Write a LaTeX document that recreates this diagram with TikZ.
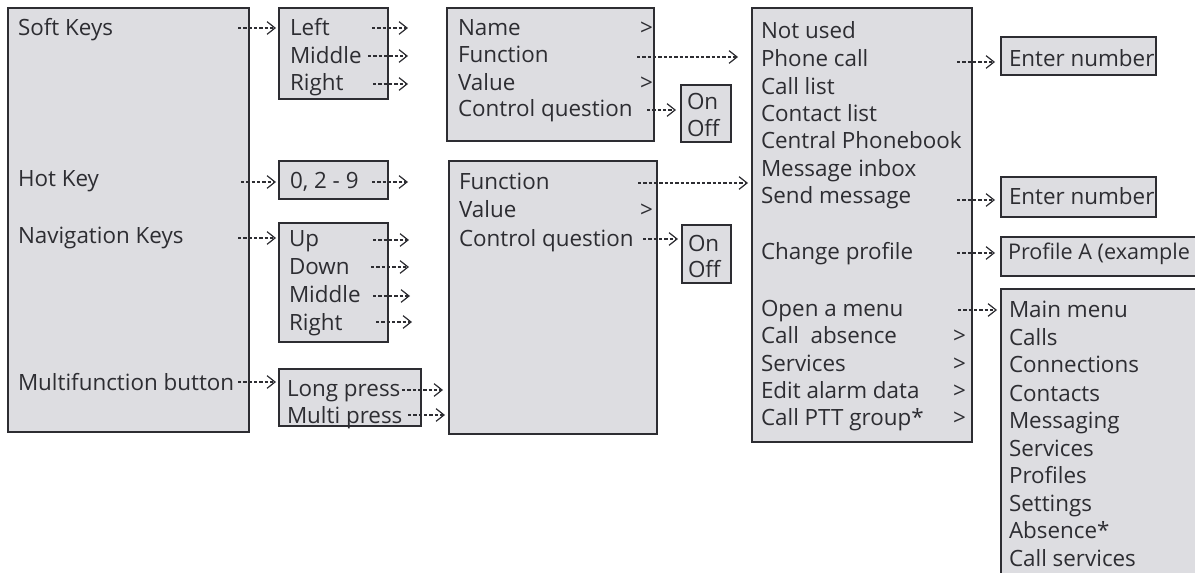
\documentclass[tikz,border=0pt]{standalone}
\usepackage{fontspec}
\setmainfont{Open Sans}
\usetikzlibrary{arrows.meta}
\definecolor{boxfill}{RGB}{221,221,225}
\definecolor{ink}{RGB}{45,45,50}
\newcommand\mkbox[5]{\node[box,minimum width=#4*0.75pt,minimum height=#5*0.75pt] (#1) at (#2,#3) {};}
\newcommand\tl[4]{\node[txt] (#1) at (#2,#3) {#4};}
\newcommand\darr[4]{\coordinate (#1s) at (#2,#4); \coordinate (#1e) at (#3,#4); \draw[arr] (#1s) -- (#1e);}
\begin{document}
\begin{tikzpicture}[x=0.75pt,y=-0.75pt,
  box/.style={draw=ink, fill=boxfill, line width=1.1pt, anchor=north west, inner sep=0pt, outer sep=0pt},
  txt/.style={anchor=base west, inner sep=0pt, outer sep=0pt, text=ink, font=\fontsize{16.8}{20}\selectfont},
  arr/.style={draw=ink, line width=0.8pt, dash pattern=on 2.6pt off 1.4pt, -{Straight Barb[length=6pt,width=9.5pt,line width=0.9pt]}},
]
\useasboundingbox (0,0) rectangle (1195,573);
\clip (0,0) rectangle (1195,573);
% boxes
\mkbox{A}{8}{8}{241}{424}
\mkbox{SK}{279}{8}{109}{91}
\mkbox{HK}{279}{161}{109}{38}
\mkbox{NK}{279}{223}{109}{119}
\mkbox{MF}{279}{369}{142}{57}
\mkbox{NB}{447}{8}{207}{133}
\mkbox{OOa}{681}{85}{50}{57}
\mkbox{FB}{449}{161}{208}{273}
\mkbox{OOb}{682}{225}{49}{58}
\mkbox{L}{752}{8}{220}{434}
\mkbox{ENa}{1001}{37}{155}{38}
\mkbox{ENb}{1001}{177}{155}{40}
\mkbox{PA}{1001}{237}{220}{39}
\mkbox{MM}{1001}{289}{220}{300}
% texts
\tl{tsoft}{18}{36}{Soft Keys}
\tl{thot}{18}{187}{Hot Key}
\tl{tnav}{18}{244}{Navigation Keys}
\tl{tmf}{18}{390}{Multifunction button}
\tl{tskl}{290}{36}{Left}
\tl{tskm}{290}{64}{Middle}
\tl{tskr}{290}{91}{Right}
\tl{thk}{290}{189}{0, 2 - 9}
\tl{tnku}{289}{247}{Up}
\tl{tnkd}{289}{275}{Down}
\tl{tnkm}{289}{303}{Middle}
\tl{tnkr}{289}{330}{Right}
\tl{tlp}{287}{397}{Long press}
\tl{tmp}{287}{423}{Multi press}
\tl{tname}{458}{36}{Name}
\tl{tnameg}{640}{36}{>}
\tl{tfunc}{458}{63}{Function}
\tl{tval}{458}{91}{Value}
\tl{tvalg}{640}{91}{>}
\tl{tcq}{458}{117}{Control question}
\tl{tona}{687}{110}{On}
\tl{toffa}{687}{137}{Off}
\tl{tfuncb}{459}{190}{Function}
\tl{tvalb}{459}{218}{Value}
\tl{tvalbg}{640}{218}{>}
\tl{tcqb}{459}{247}{Control question}
\tl{tonb}{688}{252}{On}
\tl{toffb}{688}{278}{Off}
\tl{l1}{761}{39}{Not used}
\tl{l2}{761}{67}{Phone call}
\tl{l3}{761}{94.5}{Call list}
\tl{l4}{761}{122}{Contact list}
\tl{l5}{761}{149}{Central Phonebook}
\tl{l6}{761}{176.5}{Message inbox}
\tl{l7}{761}{204}{Send message}
\tl{l8}{761}{260}{Change profile}
\tl{l9}{761}{317}{Open a menu}
\tl{l10}{761}{344}{Call\ \ absence}
\tl{l11}{761}{371}{Services}
\tl{l12}{761}{398}{Edit alarm data}
\tl{l13}{761}{425}{Call PTT group*}
\tl{g10}{953}{344}{>}
\tl{g11}{953}{371}{>}
\tl{g12}{953}{398}{>}
\tl{g13}{953}{425}{>}
\tl{ena}{1009}{67}{Enter number}
\tl{enb}{1009}{205}{Enter number}
\node[txt, font=\fontsize{16.2}{20}\selectfont] (pa) at (1008,260) {Profile A (example};
\tl{m1}{1009}{318}{Main menu}
\tl{m2}{1009}{346}{Calls}
\tl{m3}{1009}{373}{Connections}
\tl{m4}{1009}{401}{Contacts}
\tl{m5}{1009}{428}{Messaging}
\tl{m6}{1009}{456}{Services}
\tl{m7}{1009}{483}{Profiles}
\tl{m8}{1009}{511}{Settings}
\tl{m9}{1009}{538}{Absence*}
\tl{m10}{1009}{566}{Call services}
% arrows
\darr{a1}{238}{276}{28}
\darr{a2}{372}{408}{28}
\darr{a3}{368}{408}{56}
\darr{a4}{373}{408}{84}
\darr{a5}{241}{276}{182}
\darr{a6}{372}{408}{182}
\darr{a7}{238}{276}{238}
\darr{a8}{373}{409}{240}
\darr{a9}{371}{409}{267}
\darr{a10}{373}{410}{296}
\darr{a11}{376}{412}{322}
\darr{a12}{238}{276}{382}
\darr{a13}{402}{443}{390}
\darr{a14}{408}{445}{415}
\darr{a15}{637}{738}{57}
\darr{a16}{647}{676}{110}
\darr{a17}{638}{748}{183}
\darr{a18}{643}{678}{239}
\darr{a19}{957}{995}{62}
\darr{a20}{957}{995}{200}
\darr{a21}{957}{995}{253}
\darr{a22}{958}{997}{310}
\end{tikzpicture}
\end{document}
